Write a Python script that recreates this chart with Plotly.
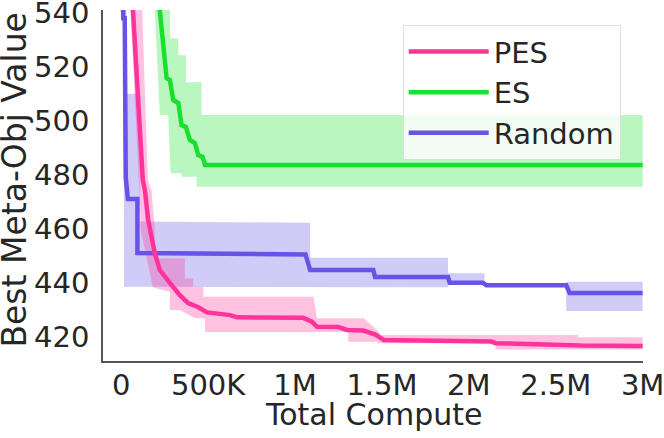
import plotly.graph_objects as go

# compute in millions
pes_x = [0.0, 0.068, 0.103, 0.124, 0.136, 0.155, 0.193, 0.222, 0.280, 0.337, 0.384,
         0.441, 0.493, 0.568, 0.626, 0.666, 1.047, 1.097, 1.126, 1.249, 1.299, 1.393,
         1.462, 1.51, 1.952, 1.97, 2.13, 2.154, 2.373, 2.414, 2.644, 3.0]
pes_y = [615, 540, 499.3, 477.0, 473.3, 462.2, 450.0, 443.7, 438.9, 434.4, 431.5,
         430.0, 428.0, 427.4, 427.0, 426.2, 426.0, 424.6, 422.7, 422.6, 421.5, 421.3,
         419.8, 417.8, 417.6, 417.3, 417.2, 416.6, 416.3, 415.9, 415.7, 415.6]
pes_hi_x = [0.08, 0.122, 0.153, 0.174, 0.193, 0.193, 0.366, 0.366, 0.414, 0.414, 0.472,
            0.472, 1.106, 1.126, 1.394, 1.472, 1.491, 2.627, 2.627, 3.0]
pes_hi_y = [618, 540, 477.0, 473.3, 458.5, 448.1, 448.1, 440.6, 440.6, 437.5, 437.5,
            433.8, 433.8, 425.8, 425.8, 421.5, 419.6, 419.6, 418.8, 418.8]
pes_lo_x = [0.0, 0.053, 0.101, 0.1125, 0.145, 0.164, 0.182, 0.203, 0.28, 0.28, 0.337,
            0.424, 0.482, 0.482, 1.306, 1.306, 1.473, 1.473, 2.154, 2.154, 3.0]
pes_lo_y = [610, 540, 477.0, 458.5, 448.1, 442.6, 437.4, 436.9, 435.7, 428.9, 428.9,
            425.8, 425.8, 420.7, 420.7, 417.1, 417.1, 416.6, 416.6, 414.3, 414.3]

es_x = [0.173, 0.222, 0.261, 0.280, 0.299, 0.328, 0.347, 0.372, 0.395, 0.424, 0.443,
        0.468, 0.482, 3.0]
es_y = [571, 540, 514.8, 514.1, 506.7, 505.6, 497.4, 496.7, 491.9, 490.7, 486.3,
        485.6, 482.6, 482.6]
es_hi_x = [0.17, 0.28, 0.28, 0.328, 0.328, 0.372, 0.372, 0.462, 0.462, 3.0]
es_hi_y = [600, 600, 529.6, 529.6, 523.3, 523.3, 513.3, 513.3, 501.1, 501.1]
es_lo_x = [0.15, 0.193, 0.222, 0.270, 0.284, 0.347, 0.347, 0.434, 0.434, 3.0]
es_lo_y = [600, 540, 501.1, 501.1, 479.6, 479.6, 478.3, 478.3, 474.6, 474.6]

rnd_x = [0.0, 0.008, 0.012, 0.02, 0.026, 0.038, 0.093, 0.093, 0.78, 1.06, 1.087,
         1.45, 1.46, 1.88, 1.89, 2.08, 2.10, 2.56, 2.58, 3.0]
rnd_y = [560, 540, 537, 537, 478, 470, 470, 450, 449.6, 449.5, 443.7,
         443.7, 441.1, 441.1, 439.0, 439.0, 438.1, 438.1, 435.2, 435.2]
rnd_hi_x = [0.0, 0.03, 0.03, 0.107, 0.107, 1.087, 1.087, 1.88, 1.88, 2.09, 2.09,
            2.56, 2.56, 3.0]
rnd_hi_y = [560, 560, 509, 509, 461.7, 461.2, 448.3, 448.3, 442.5, 442.5, 438.1,
            438.1, 439.4, 439.4]
rnd_lo_x = [0.0, 0.012, 0.016, 1.88, 1.88, 2.09, 2.09, 2.56, 2.56, 3.0]
rnd_lo_y = [560, 537, 437.5, 437.3, 438.5, 438.5, 438.1, 438.1, 428.5, 428.5]

tick_vals = [0, 0.5, 1, 1.5, 2, 2.5, 3]
tick_text = ["0", "500K", "1M", "1.5M", "2M", "2.5M", "3M"]
y_ticks = [420, 440, 460, 480, 500, 520, 540]

pes_col = "rgb(255,51,153)"
es_col = "rgb(25,224,45)"
rnd_col = "rgb(104,82,232)"

fig = go.Figure()

bands = [
    (rnd_hi_x, rnd_hi_y, rnd_lo_x, rnd_lo_y, "rgba(104,82,232,0.3)"),
    (es_hi_x, es_hi_y, es_lo_x, es_lo_y, "rgba(25,224,45,0.3)"),
    (pes_hi_x, pes_hi_y, pes_lo_x, pes_lo_y, "rgba(255,51,153,0.3)"),
]
for hx, hy, lx, ly, fc in bands:
    fig.add_trace(go.Scatter(
        x=hx + lx[::-1], y=hy + ly[::-1],
        fill="toself", fillcolor=fc, line=dict(width=0),
        mode="lines", showlegend=False, hoverinfo="skip",
    ))

lines = [
    ("Random", rnd_x, rnd_y, rnd_col, 3),
    ("ES", es_x, es_y, es_col, 2),
    ("PES", pes_x, pes_y, pes_col, 1),
]
for name, xs, ys, col, rank in lines:
    fig.add_trace(go.Scatter(
        x=xs, y=ys, name=name, mode="lines",
        line=dict(color=col, width=4.5),
        legendrank=rank,
    ))

fig.update_layout(
    width=664, height=438,
    margin=dict(l=103, r=21, t=10, b=77),
    paper_bgcolor="white", plot_bgcolor="white",
    font=dict(family="DejaVu Sans", size=29, color="#262626"),
    showlegend=True,
    legend=dict(
        x=0.555, y=0.957, xanchor="left", yanchor="top",
        bgcolor="rgba(255,255,255,0.8)", bordercolor="#dddddd", borderwidth=1,
        font=dict(size=29), itemwidth=80, tracegroupgap=0,
    ),
)
fig.update_xaxes(
    range=[-0.105, 3.002], tickvals=tick_vals, ticktext=tick_text,
    showgrid=False, zeroline=False, showline=True, linecolor="#555555", linewidth=1.5,
    ticks="", ticklabelstandoff=-3, automargin=False, ticklabeloverflow="allow",
)
fig.update_yaxes(
    range=[410, 540.05], tickvals=y_ticks,
    showgrid=False, zeroline=False, showline=True, linecolor="#555555", linewidth=1.5,
    ticks="", ticklabelstandoff=6, ticklabelshift=3, automargin=False,
    ticklabeloverflow="allow",
)

# axis titles as annotations so they can sit right at the figure edge
fig.add_annotation(text="Total Compute", xref="paper", yref="paper",
                   x=0.5, y=-0.152, xanchor="center", yanchor="middle",
                   showarrow=False, font=dict(size=30))
fig.add_annotation(text="Best Meta-Obj Value", xref="paper", yref="paper",
                   x=-0.164, y=0.518, xanchor="center", yanchor="middle",
                   textangle=-90, showarrow=False, font=dict(size=33))

fig.write_html("out.html", config={"displayModeBar": False},
               post_script="document.body.style.margin='0';")
